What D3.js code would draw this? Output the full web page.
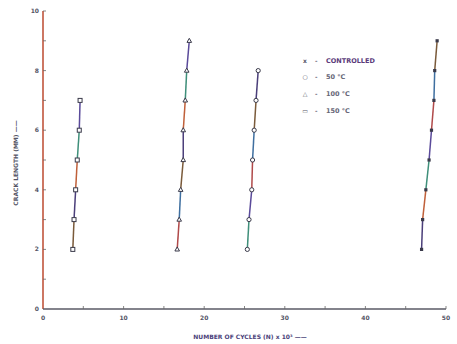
<!DOCTYPE html>
<html>
<head>
<meta charset="utf-8">
<script src="https://cdn.jsdelivr.net/npm/d3@7"></script>
<style>
  body { margin: 0; background: #fff; }
  text { font-family: "DejaVu Sans", sans-serif; font-weight: bold; }
</style>
</head>
<body>
<div id="chart"></div>
<script>
// Crack length (mm) vs number of cycles (x 10^3)
const crackLength = [2, 3, 4, 5, 6, 7, 8, 9];

const seriesNames = ["CONTROLLED", "50 \u00B0C", "100 \u00B0C", "150 \u00B0C"];
const seriesMarkers = ["cross", "circle", "triangle", "square"];

// cycles (x 10^3), one per crack length
const cyclesControlled = [46.97, 47.1, 47.5, 47.9, 48.2, 48.5, 48.6, 48.9];
const cycles50 = [25.35, 25.56, 25.9, 26.0, 26.2, 26.43, 26.7];
const cycles100 = [16.65, 16.9, 17.08, 17.4, 17.4, 17.65, 17.83, 18.15];
const cycles150 = [3.7, 3.85, 4.05, 4.25, 4.5, 4.6];

const xTicks = [0, 10, 20, 30, 40, 50];
const yTicks = [0, 2, 4, 6, 8, 10];

const allCycles = [cyclesControlled, cycles50, cycles100, cycles150];

const width = 457, height = 344;
const margin = { top: 11, right: 11, bottom: 35, left: 43 };

const svg = d3.select("#chart")
  .append("svg")
  .attr("width", width)
  .attr("height", height);

const x = d3.scaleLinear().domain([0, 50]).range([margin.left, width - margin.right]);
const y = d3.scaleLinear().domain([0, 10]).range([height - margin.bottom, margin.top]);

// segment colours of the scan (lines look rainbow tinted)
const segColors = ["#4b3f7a", "#c0603a", "#3f8f7a", "#5a4a9a", "#b04a4a", "#3f6fa0", "#7a5a3a"];

// axes
svg.append("line")
  .attr("x1", x(0)).attr("x2", x(0))
  .attr("y1", y(0)).attr("y2", y(10))
  .style("stroke", "#c0553d").style("stroke-width", 1.6);

svg.append("line")
  .attr("x1", x(0)).attr("x2", x(50))
  .attr("y1", y(0)).attr("y2", y(0))
  .style("stroke", "#5a5a66").style("stroke-width", 1.6);

// y ticks (every mm, inside)
svg.selectAll(".ytick")
  .data(d3.range(1, 11))
  .enter()
  .append("line")
  .attr("x1", x(0)).attr("x2", x(0) + 3)
  .attr("y1", d => y(d)).attr("y2", d => y(d))
  .style("stroke", "#666").style("stroke-width", 0.8);

svg.selectAll(".ylab")
  .data(yTicks)
  .enter()
  .append("text")
  .attr("x", x(0) - 4)
  .attr("y", d => y(d) + 2)
  .attr("text-anchor", "end")
  .style("font-size", "6px")
  .style("fill", "#556")
  .text(d => d);

// x ticks
svg.selectAll(".xtick")
  .data(d3.range(5, 51, 5))
  .enter()
  .append("line")
  .attr("x1", d => x(d)).attr("x2", d => x(d))
  .attr("y1", y(0)).attr("y2", y(0) - 3)
  .style("stroke", "#666").style("stroke-width", 0.8);

svg.selectAll(".xlab")
  .data(xTicks)
  .enter()
  .append("text")
  .attr("x", d => x(d))
  .attr("y", y(0) + 11)
  .attr("text-anchor", "middle")
  .style("font-size", "6px")
  .style("fill", "#556")
  .text(d => d);

// axis titles
svg.append("text")
  .attr("x", 250)
  .attr("y", 339)
  .attr("text-anchor", "middle")
  .style("font-size", "6px")
  .style("fill", "#4b3f7a")
  .text("NUMBER OF CYCLES (N) x 10\u00B3 \u2014\u2014");

svg.append("text")
  .attr("transform", "translate(18,163) rotate(-90)")
  .attr("text-anchor", "middle")
  .style("font-size", "6px")
  .style("fill", "#556")
  .text("CRACK LENGTH (MM) \u2014\u2014");

// series lines and markers
allCycles.forEach((cyc, si) => {
  const pts = cyc.map((c, i) => ({ c, l: crackLength[i] }));
  for (let i = 0; i < pts.length - 1; i++) {
    svg.append("line")
      .attr("x1", x(pts[i].c)).attr("y1", y(pts[i].l))
      .attr("x2", x(pts[i + 1].c)).attr("y2", y(pts[i + 1].l))
      .style("stroke", segColors[(i + si * 2) % segColors.length])
      .style("stroke-width", 1.5);
  }
  const g = svg.append("g");
  const m = seriesMarkers[si];
  pts.forEach(p => {
    const px = x(p.c), py = y(p.l);
    if (m === "circle") {
      g.append("circle").attr("cx", px).attr("cy", py).attr("r", 2.1)
        .style("fill", "#fff").style("stroke", "#3a3a4a").style("stroke-width", 1);
    } else if (m === "square") {
      g.append("rect").attr("x", px - 2).attr("y", py - 2).attr("width", 4).attr("height", 4)
        .style("fill", "#fff").style("stroke", "#3a3a4a").style("stroke-width", 1);
    } else if (m === "triangle") {
      g.append("path").attr("d", `M${px},${py - 2.5}L${px + 2.3},${py + 1.6}L${px - 2.3},${py + 1.6}Z`)
        .style("fill", "#fff").style("stroke", "#3a3a4a").style("stroke-width", 1);
    } else {
      g.append("rect").attr("x", px - 1.6).attr("y", py - 1.6).attr("width", 3.2).attr("height", 3.2)
        .style("fill", "#3a3a4a");
    }
  });
});

// legend
const legendY = [61, 77, 94, 111];
const legendSym = ["x", "\u25CB", "\u25B3", "\u25AD"];
seriesNames.forEach((name, i) => {
  svg.append("text")
    .attr("x", 305).attr("y", legendY[i] + 2)
    .attr("text-anchor", "middle")
    .style("font-size", "6px")
    .style("fill", "#556")
    .text(legendSym[i]);
  svg.append("text")
    .attr("x", 315).attr("y", legendY[i] + 2)
    .style("font-size", "6px")
    .style("fill", "#667")
    .text("-");
  svg.append("text")
    .attr("x", 326).attr("y", legendY[i] + 2)
    .style("font-size", "6.5px")
    .style("fill", i === 0 ? "#5a3a7a" : "#667")
    .text(name);
});
</script>
</body>
</html>
